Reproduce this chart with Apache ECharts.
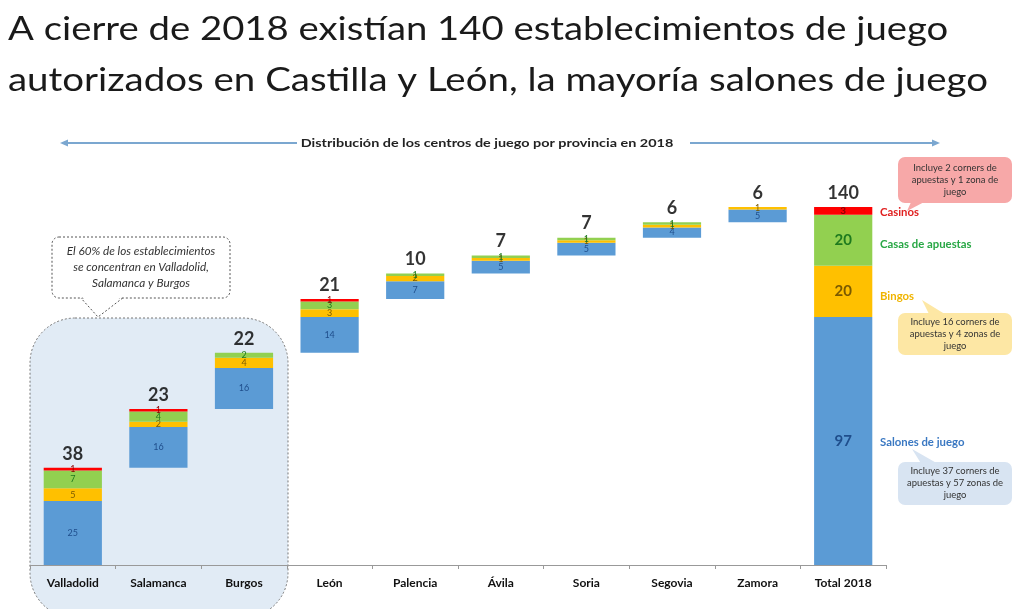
<!DOCTYPE html>
<html><head><meta charset="utf-8">
<script src="https://cdn.jsdelivr.net/npm/echarts@6/dist/echarts.min.js"></script>
<style>html,body{margin:0;padding:0;background:#fff}#c{width:1020px;height:609px}</style>
</head><body><div id="c"></div>
<script>
const categories = ['Valladolid','Salamanca','Burgos','León','Palencia','Ávila','Soria','Segovia','Zamora','Total 2018'];
const salones = [25,16,16,14,7,5,5,4,5,97];
const bingos  = [5,2,4,3,2,1,1,1,1,20];
const casas   = [7,4,2,3,1,1,1,1,0,20];
const casinos = [1,1,0,1,0,0,0,0,0,3];
const seriesNames = ['Salones de juego','Bingos','Casas de apuestas','Casinos'];
const calloutTexts = [
  ['El 60% de los establecimientos','se concentran en Valladolid,','Salamanca y Burgos'],
  ['Incluye 2 corners de','apuestas y 1 zona de','juego'],
  ['Incluye 16 corners de','apuestas y 4 zonas de','juego'],
  ['Incluye 37 corners de','apuestas y 57 zonas de','juego']
];

const n = categories.length;
const totals = categories.map((c,i)=>salones[i]+bingos[i]+casas[i]+casinos[i]);
const base = [];
let acc = 0;
for (let i=0;i<n;i++){ if(i===n-1){base.push(0);} else {base.push(acc); acc+=totals[i];} }
const tops = totals.map((t,i)=>t+base[i]);

const FONT = 'Lato';
const fills = ['#5b9bd5','#ffc000','#92d050','#ff0000'];
const labelCols = ['#1f4e8c','#7a5a00','#1e7a1e','#8b0000'];

function segData(arr, k){
  return arr.map((v,i)=>{
    const isTot = i===n-1;
    return {value:v, label:{show: v>0, fontSize: isTot ? (k===3?10:15) : 9, fontWeight: isTot ? 'bold':'normal', color: labelCols[k]}};
  });
}
const segSeries = [salones,bingos,casas,casinos].map((arr,k)=>({
  name: seriesNames[k], type:'bar', stack:'w', barWidth:'68%',
  itemStyle:{color:fills[k]},
  label:{show:true, position:'inside', fontFamily:FONT},
  data: segData(arr,k), z:3
}));

function callout(x,y,w,h,fill,tail,lines,stroke,dashed,italic){
  const els = [];
  const st = {fill:fill, lineWidth:1};
  if (stroke) { st.stroke = stroke; if (dashed) st.lineDash=[2,2]; }
  els.push({type:'polygon', shape:{points:tail}, style:Object.assign({},st), z:10});
  els.push({type:'rect', shape:{x:x,y:y,width:w,height:h,r:7}, style:Object.assign({},st), z:10});
  if (stroke) {
    els.push({type:'polygon', shape:{points:[[tail[0][0]+1,tail[0][1]-1.5],[tail[1][0],tail[1][1]-1.5],[tail[2][0]-1,tail[2][1]-1.5]]}, style:{fill:fill}, z:11});
  }
  const sp = italic?16:12;
  lines.forEach((t,i)=>{
    els.push({type:'text', x:x+w/2, y:y+h/2+(i-(lines.length-1)/2)*sp, scaleX: italic?1.12:1.05,
      style:{text:t, fontFamily:FONT, fontSize: italic?10.5:9, fontStyle: italic?'italic':'normal', fill:'#333', align:'center', verticalAlign:'middle'}, z:12});
  });
  return els;
}

const graphics = [
  {type:'rect', shape:{x:30,y:318,width:258,height:300,r:45}, style:{fill:'#e1ebf5', stroke:'#777', lineDash:[2,2], lineWidth:1}, z:-10},
  {type:'text', x:8, y:13, scaleX:1.16, style:{text:'A cierre de 2018 existían 140 establecimientos de juego', fontFamily:FONT, fontSize:33, fill:'#1a1a1a', verticalAlign:'top'}},
  {type:'text', x:8, y:64, scaleX:1.165, style:{text:'autorizados en Castilla y León, la mayoría salones de juego', fontFamily:FONT, fontSize:33, fill:'#1a1a1a', verticalAlign:'top'}},
  {type:'text', x:487, y:143, scaleX:1.2, style:{text:'Distribución de los centros de juego por provincia en 2018', fontFamily:FONT, fontSize:12, fontWeight:'bold', fill:'#222', align:'center', verticalAlign:'middle'}},
  {type:'line', shape:{x1:64,y1:143,x2:297,y2:143}, style:{stroke:'#7ba7d0', lineWidth:2}},
  {type:'polygon', shape:{points:[[60,143],[68,139.5],[68,146.5]]}, style:{fill:'#7ba7d0'}},
  {type:'line', shape:{x1:690,y1:143,x2:934,y2:143}, style:{stroke:'#7ba7d0', lineWidth:2}},
  {type:'polygon', shape:{points:[[940,143],[932,139.5],[932,146.5]]}, style:{fill:'#7ba7d0'}}
]
  .concat(callout(52,237,178,61,'#ffffff',[[80,297],[98,317],[124,297]],calloutTexts[0],'#555',true,true))
  .concat(callout(898,157,114,46,'#f7a8a8',[[912,200],[907,211],[928,200]],calloutTexts[1],null,false,false))
  .concat(callout(898,313,114,42,'#fde7a4',[[930,316],[922,300],[948,316]],calloutTexts[2],null,false,false))
  .concat(callout(898,462,114,43,'#d8e4f2',[[922,465],[912,449],[940,465]],calloutTexts[3],null,false,false))
  .concat([
  {type:'text', x:880, y:213, scaleX:1.08, style:{text:'Casinos', fontFamily:FONT, fontSize:10.5, fontWeight:'bold', fill:'#e02020', verticalAlign:'middle'}},
  {type:'text', x:880, y:245, scaleX:1.08, style:{text:'Casas de apuestas', fontFamily:FONT, fontSize:10.5, fontWeight:'bold', fill:'#28a745', verticalAlign:'middle'}},
  {type:'text', x:880, y:297, scaleX:1.08, style:{text:'Bingos', fontFamily:FONT, fontSize:10.5, fontWeight:'bold', fill:'#f0b400', verticalAlign:'middle'}},
  {type:'text', x:880, y:443, scaleX:1.08, style:{text:'Salones de juego', fontFamily:FONT, fontSize:10.5, fontWeight:'bold', fill:'#3a78c2', verticalAlign:'middle'}}
  ]);

const chart = echarts.init(document.getElementById('c'));
chart.setOption({
  animation:false,
  grid:{left:30, right:134, top:181.4, bottom:44, containLabel:false},
  xAxis:{type:'category', data:categories, axisLine:{lineStyle:{color:'#999'}}, axisTick:{show:true, alignWithLabel:false, length:4, lineStyle:{color:'#999'}},
    axisLabel:{fontFamily:FONT, fontSize:12, fontWeight:'bold', color:'#111', margin:12}},
  yAxis:{type:'value', min:0, max:150, show:false, splitLine:{show:false}},
  graphic:{elements:graphics},
  series:[
    {name:'base', type:'bar', stack:'w', barWidth:'68%', itemStyle:{color:'transparent'}, data:base, silent:true, z:3},
    ...segSeries,
    {name:'total', type:'scatter', data:tops, symbolSize:0, z:5,
     label:{show:true, position:'top', distance:5, fontFamily:FONT, fontWeight:'bold', fontSize:18, color:'#000',
       formatter:(p)=>String(totals[p.dataIndex])}}
  ]
});
</script></body></html>
